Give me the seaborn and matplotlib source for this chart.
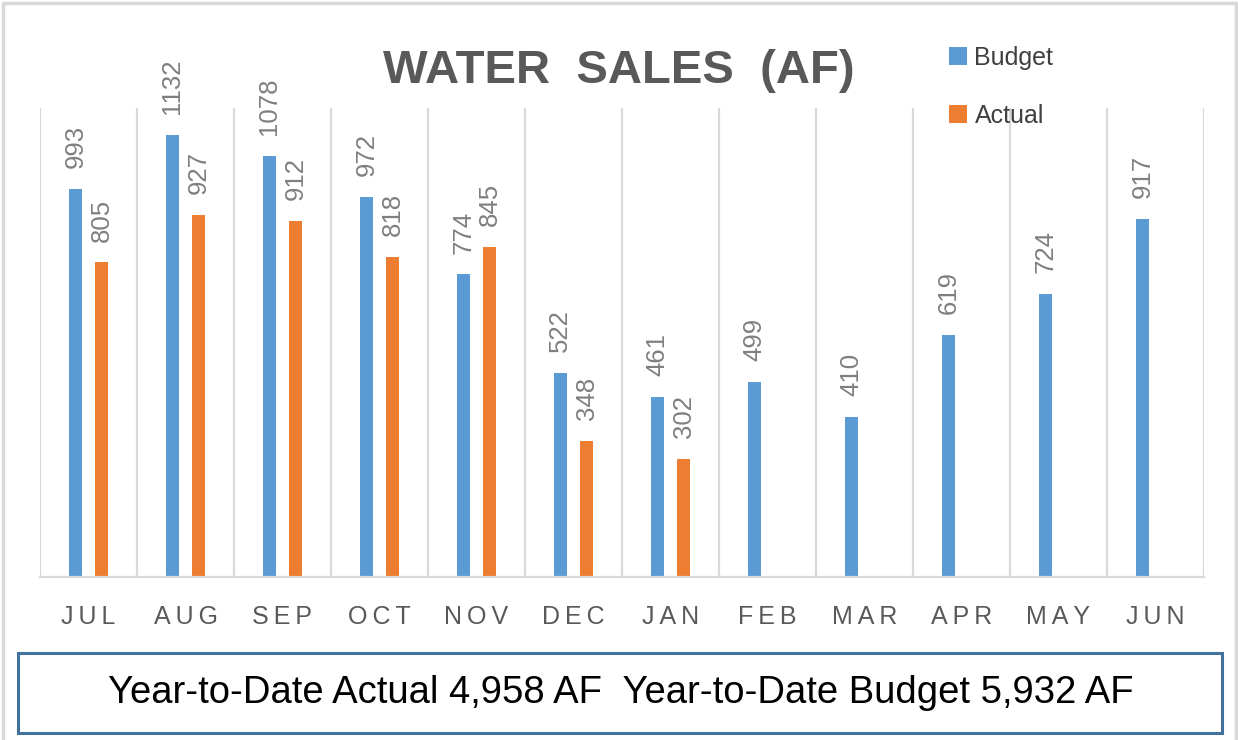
import numpy as np
import pandas as pd
import matplotlib
matplotlib.use('Agg')
import matplotlib.pyplot as plt
from matplotlib.lines import Line2D
from matplotlib.patches import Rectangle
import seaborn as sns

# Chart data
months = ['JUL', 'AUG', 'SEP', 'OCT', 'NOV', 'DEC', 'JAN', 'FEB', 'MAR', 'APR', 'MAY', 'JUN']
budget = [993, 1132, 1078, 972, 774, 522, 461, 499, 410, 619, 724, 917]
actual = [805, 927, 912, 818, 845, 348, 302, np.nan, np.nan, np.nan, np.nan, np.nan]
series_names = ['Budget', 'Actual']
title_text = 'WATER  SALES  (AF)'
footer_text = 'Year-to-Date Actual 4,958 AF  Year-to-Date Budget 5,932 AF'

df = pd.DataFrame({
    'month': months * 2,
    'series': ['Budget'] * len(months) + ['Actual'] * len(months),
    'value': budget + actual,
})

sns.set_style('white')
plt.rcParams['font.family'] = ['Liberation Sans', 'DejaVu Sans']

W, H = 1238, 740
fig = plt.figure(figsize=(W / 100, H / 100), dpi=100)
ax = fig.add_axes([40 / W, 1 - 577 / H, (1204 - 40) / W, (577 - 108) / H])

sns.barplot(data=df, x='month', y='value', hue='series', order=months,
            hue_order=series_names, palette=['#5B9BD5', '#ED7D31'],
            saturation=1, linewidth=0, width=0.54, gap=0.5,
            errorbar=None, ax=ax)

# value labels, rotated like the original
for cont in ax.containers:
    ax.bar_label(cont, fmt='{:.0f}', rotation=90, padding=15,
                 fontsize=18.5, color='#7F7F7F')

ax.set_ylim(0, 1200)
ax.set_xlim(-0.5, len(months) - 0.5)
ax.set_xlabel('')
ax.set_ylabel('')
ax.set_yticks([])

# category boundaries as vertical grid lines
ax.set_xticks(np.arange(-0.5, len(months)), minor=True)
ax.grid(False)
ax.grid(which='minor', axis='x', color='#D9D9D9', linewidth=1.6)
ax.tick_params(which='both', length=0)
ax.set_xticks(range(len(months)))
ax.set_xticklabels(['\u2009'.join(m) for m in months], fontsize=18, color='#595959')
ax.tick_params(axis='x', pad=20)

for s in ['top', 'left', 'right']:
    ax.spines[s].set_visible(False)
ax.spines['bottom'].set_color('#D9D9D9')
ax.spines['bottom'].set_linewidth(1.6)

# legend on the upper right
ax.legend(loc='upper left', bbox_to_anchor=(949 / W, 1 - 46 / H),
          bbox_transform=fig.transFigure, frameon=False, fontsize=18,
          handlelength=0.72, handleheight=0.72, handletextpad=0.3,
          labelspacing=1.35, borderpad=0, borderaxespad=0,
          labelcolor='#404040')
for h in ax.get_legend().legend_handles:
    h.set_linewidth(0)

fig.text(619 / W, 1 - 71 / H, title_text, ha='center', va='center',
         fontsize=34, fontweight='bold', color='#595959')

# footer box
fig.add_artist(Rectangle((18 / W, 1 - 733 / H), (1222 - 18) / W, (733 - 653) / H,
                         transform=fig.transFigure, fill=False,
                         edgecolor='#41719C', linewidth=2.2))
fig.text(621 / W, 1 - 693 / H, footer_text, ha='center', va='center',
         fontsize=27.5, color='black')

# light outer frame
frame_kw = dict(transform=fig.transFigure, color='#D9D9D9', linewidth=2.5)
fig.add_artist(Line2D([3 / W, 1236 / W], [1 - 3 / H, 1 - 3 / H], **frame_kw))
fig.add_artist(Line2D([3 / W, 3 / W], [0, 1 - 3 / H], **frame_kw))
fig.add_artist(Line2D([1236 / W, 1236 / W], [0, 1 - 3 / H], **frame_kw))

fig.savefig('out.png', dpi=100)
